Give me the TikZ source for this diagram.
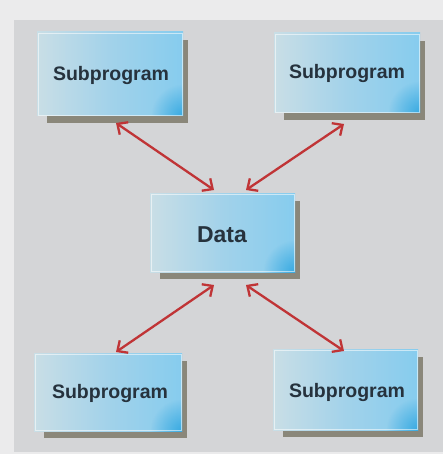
\documentclass[tikz,border=0pt]{standalone}
\usepackage{fontspec}
\setmainfont{Liberation Sans}
\usetikzlibrary{arrows.meta,fadings}
\definecolor{pagebg}{HTML}{EBEBEC}
\definecolor{panel}{HTML}{D4D5D7}
\definecolor{shade}{HTML}{8A877A}
\definecolor{boxL}{HTML}{C9DEE6}
\definecolor{boxM}{HTML}{A2D2EA}
\definecolor{boxR}{HTML}{86CCEE}
\definecolor{glint}{HTML}{2FA6E0}
\definecolor{ink}{HTML}{26323D}
\definecolor{link}{HTML}{C03436}
\tikzfading[name=cornerfade, inner color=transparent!0, outer color=transparent!100]
\tikzset{
  x=1pt, y=-1pt,
  card/.style={left color=boxL, right color=boxR, middle color=boxM},
  cardrim/.style={draw=white, draw opacity=0.55, line width=0.8pt},
  shadowbox/.style={fill=shade},
  label/.style={font=\bfseries\fontsize{19.5}{22}\selectfont, text=ink},
  biglabel/.style={font=\bfseries\fontsize{23}{26}\selectfont, text=ink},
  link/.style={draw=link, line width=2.3pt,
    {Straight Barb[length=8pt,width=15pt,line width=2.3pt]}-{Straight Barb[length=8pt,width=15pt,line width=2.3pt]}}
}
\newcommand{\card}[5]{% name, x1, y1, x2, y2
  \fill[shadowbox] (#2+10,#3+8) rectangle (#4+5,#5+7);
  \path[card] (#2,#3) rectangle (#4,#5);
  \begin{scope}
    \clip (#2,#3) rectangle (#4,#5);
    \fill[glint, path fading=cornerfade, fill opacity=0.9] (#4,#5) circle (32);
  \end{scope}
  \draw[cardrim] (#2+1,#3+1) rectangle (#4-1,#5-1);
  \coordinate (#1) at ({(#2+#4)/2},{(#3+#5)/2});
}
\begin{document}
\begin{tikzpicture}
  \fill[pagebg] (0,0) rectangle (443,454);
  \fill[panel] (14,20) rectangle (443,452);
  \useasboundingbox (0,0) rectangle (443,454);

  % the five cards
  \card{tl}{37}{32}{183}{116}
  \card{tr}{274}{33}{420}{113}
  \card{dc}{150}{193}{295}{272}
  \card{bl}{34}{353}{182}{431}
  \card{br}{273}{349}{418}{430}

  \node[label] (tlt) at (111,76) {Subprogram};
  \node[label] (trt) at (347,74) {Subprogram};
  \node[biglabel] (dct) at (222,235) {Data};
  \node[label] (blt) at (110,393) {Subprogram};
  \node[label] (brt) at (347,392) {Subprogram};

  % connector end points
  \coordinate (a1) at (116,123); \coordinate (a2) at (214,190);
  \coordinate (b1) at (344,124); \coordinate (b2) at (246,190);
  \coordinate (c1) at (214,285); \coordinate (c2) at (116,352);
  \coordinate (d1) at (246,285); \coordinate (d2) at (344,351);

  \draw[link] (a1) -- (a2);
  \draw[link] (b1) -- (b2);
  \draw[link] (c1) -- (c2);
  \draw[link] (d1) -- (d2);
\end{tikzpicture}
\end{document}
